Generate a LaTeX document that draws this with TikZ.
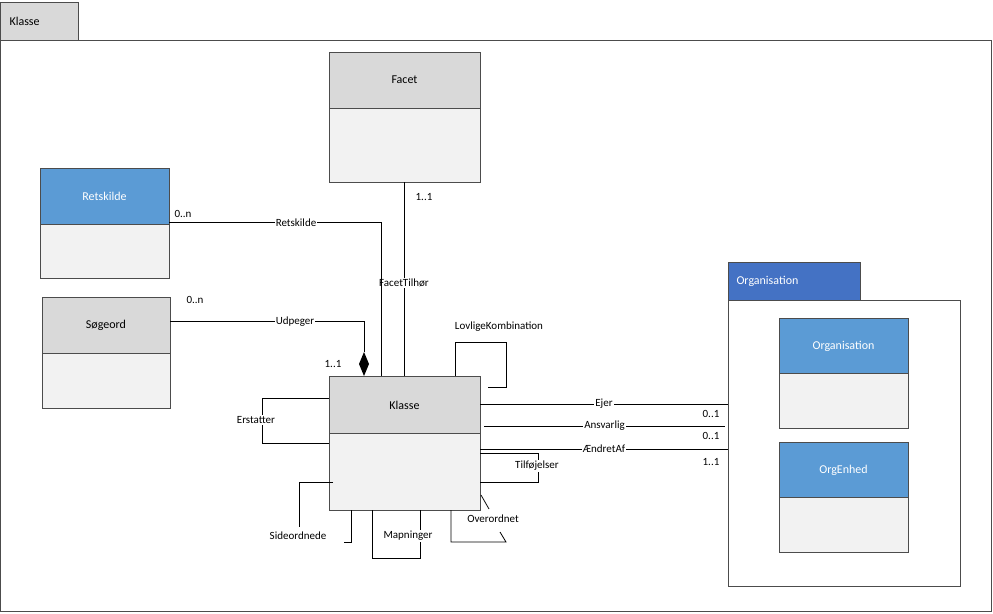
\documentclass[tikz,border=0pt]{standalone}
\usepackage{fontspec}
\setmainfont{Carlito}
\usetikzlibrary{arrows.meta}
\definecolor{hg}{HTML}{D9D9D9}
\definecolor{bg}{HTML}{F2F2F2}
\definecolor{bl}{HTML}{5B9BD5}
\definecolor{dbl}{HTML}{4472C4}
\begin{document}
\begin{tikzpicture}[x=1pt,y=-1pt,
  line/.style={draw=black,line width=0.8pt},
  box/.style={draw=black!70,line width=0.6pt},
  lbl/.style={fill=white,inner sep=1pt,font=\fontsize{11}{13}\selectfont},
  ml/.style={inner sep=1pt,font=\fontsize{11}{13}\selectfont},
  tl/.style={font=\fontsize{12}{14}\selectfont}]
\useasboundingbox (0,0) rectangle (993,613);
% outer package
\draw[box,fill=hg] (0,2) rectangle (78,40);
\node[tl,anchor=west] (pk) at (6,21) {Klasse};
\draw[box] (0,40) rectangle (991,611);
% class boxes
\newcommand{\clsbox}[7]{% name,x1,y1,x2,ymid,y2,color
  \draw[box,fill=#7] (#2,#3) rectangle (#4,#5);
  \draw[box,fill=bg] (#2,#5) rectangle (#4,#6);
}
\clsbox{facet}{329}{52}{480}{108}{182}{hg}
\node[tl] (facet) at (404.5,80) {Facet};
\clsbox{ret}{40}{168}{169}{224}{278}{bl}
\node[tl,text=white] (ret) at (104.5,196) {Retskilde};
\clsbox{sog}{42}{297}{170}{353}{408}{hg}
\node[tl] (sog) at (106,325) {Søgeord};
\clsbox{kl}{329}{376}{480}{433}{510}{hg}
\node[tl] (kl) at (404.5,405) {Klasse};
% Organisation package
\draw[box,fill=dbl] (728,262) rectangle (860,300);
\node[tl,text=white,anchor=west] (orgpk) at (733,281) {Organisation};
\draw[box] (728,300) rectangle (960,586);
\clsbox{org}{779}{318}{908}{373}{428}{bl}
\node[tl,text=white] (org) at (843.5,346) {Organisation};
\clsbox{oe}{779}{442}{908}{497}{552}{bl}
\node[tl,text=white] (oe) at (843.5,470) {OrgEnhed};
% connectors
\coordinate (f1) at (404,182); \coordinate (f2) at (404,376);
\draw[line] (f1) -- node[lbl,pos=0.52]{FacetTilhør} (f2);
\node[ml] (c1) at (424,197) {1..1};
\coordinate (r1) at (169,222); \coordinate (r2) at (381,222); \coordinate (r3) at (381,376);
\draw[line] (r1) -- (r2) -- (r3);
\node[lbl] (rl) at (296,223) {Retskilde};
\node[ml] (c2) at (183,214) {0..n};
\coordinate (u1) at (170,321); \coordinate (u2) at (364,321); \coordinate (u3) at (364,352);
\draw[line] (u1) -- (u2) -- (u3);
\fill (364,352) -- (369,364) -- (364,376) -- (359,364) -- cycle;
\node[lbl] (ul) at (295,322) {Udpeger};
\node[ml] (c3) at (195,300) {0..n};
\node[ml] (c4) at (333,364) {1..1};
\draw[line] (455,376) -- (455,342) -- (506,342) -- (506,387) -- (488,387);
\node[ml] (lk) at (499,327) {LovligeKombination};
\draw[line] (329,398) -- (262,398) -- (262,443) -- (329,443);
\node[lbl] (er) at (256,420) {Erstatter};
\draw[line] (480,404) -- node[lbl]{Ejer} (728,404);
\draw[line] (484,426) -- node[lbl]{Ansvarlig} (725,426);
\draw[line] (480,449) -- node[lbl]{ÆndretAf} (728,449);
\node[ml] (c5) at (711,414) {0..1};
\node[ml] (c6) at (711,436) {0..1};
\node[ml] (c7) at (711,462) {1..1};
\draw[line] (480,453) -- (538,453) -- (538,482) -- (480,482);
\node[lbl] (tf) at (537,466) {Tilføjelser};
\draw[line] (333,482) -- (299,482) -- (299,527);
\draw[line] (351,510) -- (351,542) -- (344,542);
\node[ml] (so) at (298,536) {Sideordnede};
\draw[line] (372,510) -- (372,558) -- (420,558) -- (420,510);
\node[lbl] (mp) at (408,536) {Mapninger};
\draw[line] (481,495) -- (489,509);
\draw[line] (451,510) -- (451,542) -- (506,542) -- (500,532);
\node[ml] (ov) at (493,519) {Overordnet};
\end{tikzpicture}
\end{document}
